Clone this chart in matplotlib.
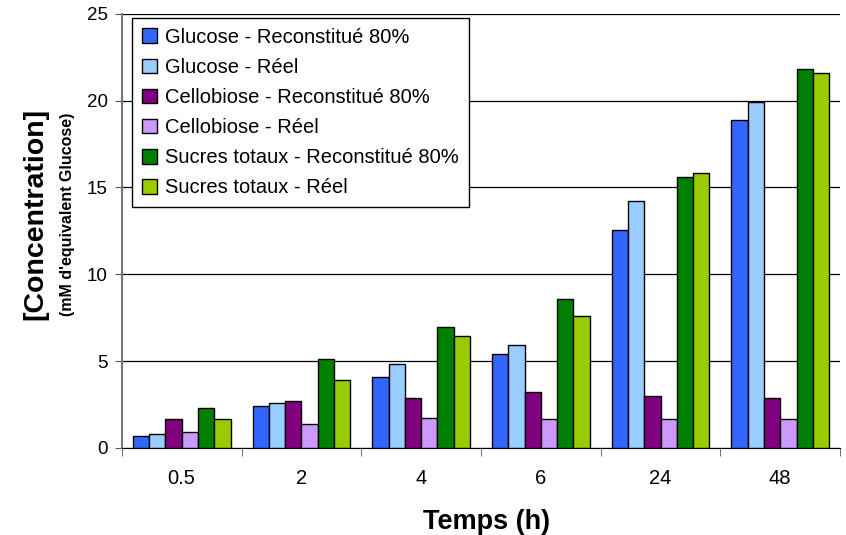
import numpy as np
import matplotlib.pyplot as plt

plt.rcParams['font.family'] = ['Liberation Sans', 'DejaVu Sans']

# données
temps = ["0.5", "2", "4", "6", "24", "48"]
series = ["Glucose - Reconstitué 80%", "Glucose - Réel",
          "Cellobiose - Reconstitué 80%", "Cellobiose - Réel",
          "Sucres totaux - Reconstitué 80%", "Sucres totaux - Réel"]
glucose_rec = [0.7, 2.4, 4.1, 5.4, 12.55, 18.9]
glucose_reel = [0.8, 2.6, 4.8, 5.95, 14.2, 19.95]
cello_rec = [1.65, 2.7, 2.85, 3.2, 3.0, 2.85]
cello_reel = [0.9, 1.35, 1.7, 1.65, 1.65, 1.65]
total_rec = [2.3, 5.1, 6.95, 8.55, 15.6, 21.8]
total_reel = [1.65, 3.9, 6.45, 7.6, 15.85, 21.6]
couleurs = ["#3366FF", "#99CCFF", "#800080", "#CC99FF", "#008000", "#99CC00"]

valeurs = [glucose_rec, glucose_reel, cello_rec, cello_reel, total_rec, total_reel]

fig = plt.figure(figsize=(8.46, 5.35), dpi=100)
ax = fig.add_axes([0.144, 0.163, 0.849, 0.811])

x = np.arange(len(temps))
w = 0.136
for i, (vals, nom, c) in enumerate(zip(valeurs, series, couleurs)):
    ax.bar(x + (i - 2.5) * w, vals, w, color=c, edgecolor="black",
           linewidth=1.0, label=nom, zorder=3)

ax.set_xlim(-0.5, len(temps) - 0.5)
ax.set_ylim(0, 25)
ax.set_yticks(np.arange(0, 26, 5))
ax.yaxis.grid(True, color="black", linewidth=0.9, zorder=0)
ax.set_axisbelow(True)

ax.set_xticks(x)
ax.set_xticklabels(temps, fontsize=14.5)
ax.set_xticks(np.arange(-0.5, len(temps), 1), minor=True)
ax.tick_params(axis="x", which="major", length=0, pad=15)
ax.tick_params(axis="x", which="minor", length=6, color="#555555")
ax.tick_params(axis="y", labelsize=13.5, length=5, color="#555555", pad=5)

ax.spines["top"].set_visible(False)
ax.spines["right"].set_visible(False)
ax.spines["left"].set_color("#777777")
ax.spines["left"].set_linewidth(1.5)
ax.spines["bottom"].set_color("black")

fig.text(0.575, 0.025, "Temps (h)", fontsize=19.5, fontweight="bold",
         ha="center", va="center")
fig.text(0.042, 0.6, "[Concentration]", rotation=90, fontsize=20.5,
         fontweight="bold", ha="center", va="center")
fig.text(0.08, 0.6, "(mM d'equivalent Glucose)", rotation=90, fontsize=11.5,
         fontweight="bold", ha="center", va="center")

leg = ax.legend(loc="upper left", bbox_to_anchor=(0.014, 0.991), fontsize=14.5,
                handlelength=0.75, handleheight=0.75, handletextpad=0.4,
                labelspacing=0.55, borderpad=0.5, borderaxespad=0,
                fancybox=False, framealpha=1, edgecolor="black")
leg.get_frame().set_linewidth(1.0)

fig.savefig("out.png", dpi=100)
